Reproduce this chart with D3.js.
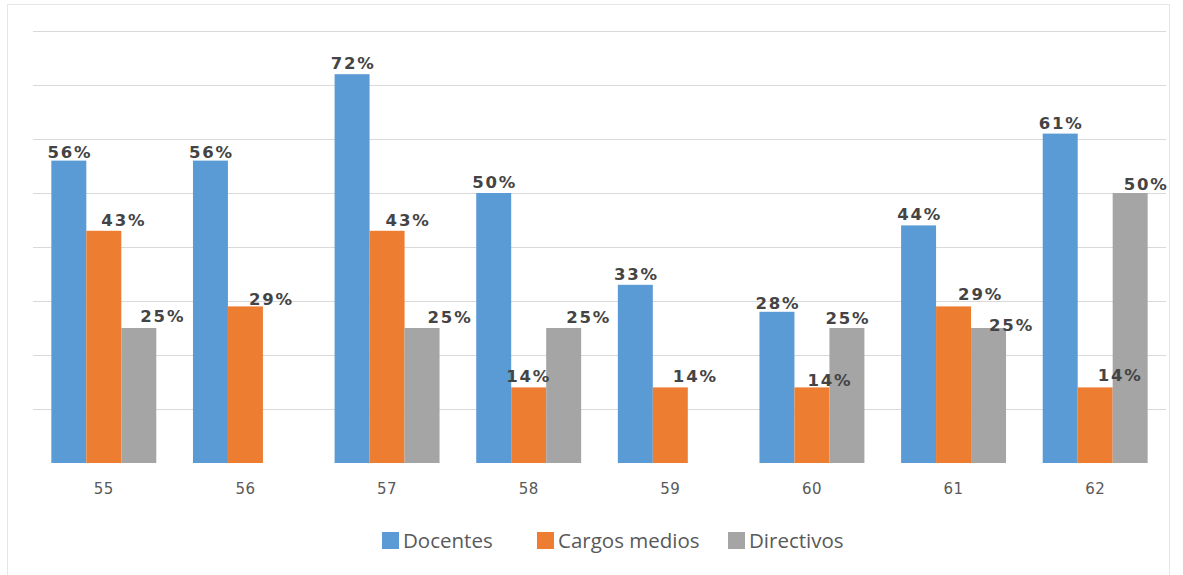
<!DOCTYPE html>
<html>
<head>
<meta charset="utf-8">
<script src="https://cdn.jsdelivr.net/npm/d3@7"></script>
<style>
  html, body { margin: 0; padding: 0; background: #ffffff; }
  svg { display: block; }
</style>
</head>
<body>
<svg id="chart" width="1183" height="575"></svg>
<script>
// Categories and series
const groups = ["55", "56", "57", "58", "59", "60", "61", "62"];
const seriesNames = ["Docentes", "Cargos medios", "Directivos"];

// Percent values per series (null = no bar)
const docentes     = [56, 56, 72, 50, 33, 28, 44, 61];
const cargosMedios = [43, 29, 43, 14, 14, 14, 29, 14];
const directivos   = [25, null, 25, 25, null, 25, 25, 50];

// Gridline values
const gridValues = [10, 20, 30, 40, 50, 60, 70, 80];

// Label nudges [dx, dy] so overlapping value labels stay readable
const labelNudgeDocentes = [[0, 2], [0, 2], [0, 0], [0, 0], [0, 0], [0, 2], [0, 0], [0, 0]];
const labelNudgeCargos   = [[19, 0], [25, 4], [20, 0], [-1, 0], [24, 0], [17, 4], [26, -1], [24, -1]];
const labelNudgeDirect   = [[23, -1], [0, 0], [27, 0], [24, 0], [0, 0], [0, 1], [22, 8], [15, 2]];

const colors = ["#5B9BD5", "#ED7D31", "#A5A5A5"];
const seriesValues = [docentes, cargosMedios, directivos];
const seriesNudges = [labelNudgeDocentes, labelNudgeCargos, labelNudgeDirect];

const svg = d3.select("#chart");

// Outer frame
svg.append("rect")
  .attr("x", 7.5).attr("y", 4.5)
  .attr("width", 1162).attr("height", 580)
  .attr("fill", "none")
  .attr("stroke", "#e6e6e6")
  .attr("stroke-width", 1);

const plotLeft = 33, plotRight = 1166, plotTop = 31, plotBottom = 463;

const x0 = d3.scaleBand()
  .domain(groups)
  .range([plotLeft, plotRight])
  .paddingInner(0.259)
  .paddingOuter(0.1295);

const x1 = d3.scaleBand()
  .domain(seriesNames)
  .range([0, x0.bandwidth()])
  .padding(0);

const y = d3.scaleLinear()
  .domain([0, 80])
  .range([plotBottom, plotTop]);

// Horizontal gridlines
svg.append("g")
  .selectAll("line")
  .data(gridValues)
  .join("line")
  .attr("x1", plotLeft)
  .attr("x2", plotRight)
  .attr("y1", d => Math.round(y(d)) + 0.5)
  .attr("y2", d => Math.round(y(d)) + 0.5)
  .attr("stroke", "#d9d9d9")
  .attr("stroke-width", 1.2);

// Flatten into bar records
const bars = [];
groups.forEach((g, gi) => {
  seriesNames.forEach((s, si) => {
    const v = seriesValues[si][gi];
    if (v != null) {
      bars.push({ group: g, series: s, si, value: v, nudge: seriesNudges[si][gi] });
    }
  });
});

// Bars
svg.append("g")
  .selectAll("rect")
  .data(bars)
  .join("rect")
  .attr("x", d => x0(d.group) + x1(d.series))
  .attr("y", d => y(d.value))
  .attr("width", x1.bandwidth())
  .attr("height", d => y(0) - y(d.value))
  .attr("fill", d => colors[d.si]);

// Value labels
svg.append("g")
  .selectAll("text")
  .data(bars)
  .join("text")
  .attr("x", d => x0(d.group) + x1(d.series) + x1.bandwidth() / 2 + d.nudge[0] + 1)
  .attr("y", d => y(d.value) - 5 + d.nudge[1])
  .attr("text-anchor", "middle")
  .attr("font-family", "DejaVu Sans, Verdana, sans-serif")
  .attr("font-weight", "bold")
  .attr("font-size", 16.5)
  .attr("letter-spacing", 1.8)
  .attr("fill", "#444444")
  .text(d => d.value + "%");

// Category axis (labels only)
const xAxis = d3.axisBottom(x0).tickSize(0).tickPadding(0);
const axisG = svg.append("g")
  .attr("transform", `translate(0, ${plotBottom + 31})`)
  .call(xAxis);
axisG.select(".domain").remove();
axisG.selectAll("text")
  .attr("dy", 0)
  .attr("font-family", "DejaVu Sans, Verdana, sans-serif")
  .attr("font-size", 15)
  .attr("letter-spacing", 0.5)
  .attr("fill", "#595959");

// Legend
const legendItems = [
  { name: seriesNames[0], color: colors[0], x: 382 },
  { name: seriesNames[1], color: colors[1], x: 537 },
  { name: seriesNames[2], color: colors[2], x: 728 }
];
const legend = svg.append("g");
legend.selectAll("rect")
  .data(legendItems)
  .join("rect")
  .attr("x", d => d.x)
  .attr("y", 532)
  .attr("width", 17)
  .attr("height", 17)
  .attr("fill", d => d.color);
legend.selectAll("text")
  .data(legendItems)
  .join("text")
  .attr("x", d => d.x + 21)
  .attr("y", 548)
  .attr("font-family", "Open Sans, sans-serif")
  .attr("font-size", 20.5)
  .attr("fill", "#595959")
  .text(d => d.name);
</script>
</body>
</html>
